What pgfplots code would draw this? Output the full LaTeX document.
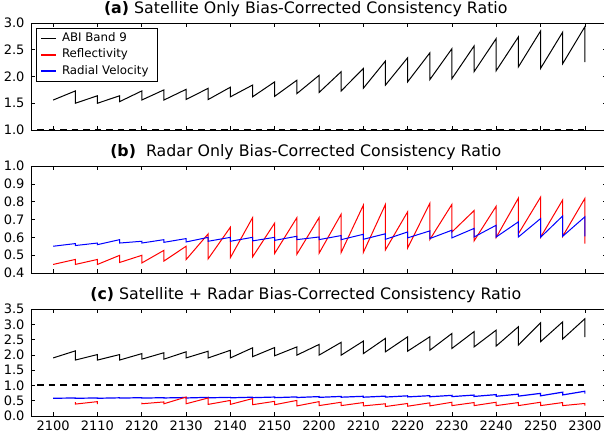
\documentclass[border=0pt]{standalone}
\usepackage{fontspec}
\setmainfont{DejaVu Sans}
\usepackage{pgfplots}
\pgfplotsset{compat=1.18}
\begin{document}
\begin{tikzpicture}
\pgfplotsset{
  panel/.style={
    scale only axis, width=576pt, height=107pt,
    xmin=-5, xmax=125,
    xtick={0,10,20,30,40,50,60,70,80,90,100,110,120},
    tick align=inside,
    major tick length=4pt,
    tick style={black, line width=0.6pt},
    axis line style={line width=0.8pt},
    xticklabels={},
    ticklabel style={font=\fontsize{13}{15}\selectfont},
    /pgf/number format/assume math mode=true,
    yticklabel style={xshift=-3pt, /pgf/number format/fixed, /pgf/number format/fixed zerofill, /pgf/number format/precision=1},
    xticklabel style={yshift=-1pt},
    title style={at={(axis description cs:0.477,1)}, anchor=base, yshift=4pt, font=\fontsize{15.8}{17}\selectfont},
    anchor=south west,
    unbounded coords=jump,
  },
  refdash/.style={draw=black, line width=2pt, dash pattern=on 6.5pt off 5pt, forget plot},
}
% ---------------- (a)
\begin{axis}[panel, at={(31pt,307pt)},
  ymin=1, ymax=3, ytick={1,1.5,2,2.5,3},
  title={\textbf{(a)} Satellite Only Bias-Corrected Consistency Ratio},
  legend style={at={(axis description cs:0,1)}, anchor=north west, xshift=5pt, yshift=-5pt,
    draw=black, font=\fontsize{11.8}{13}\selectfont,
    inner xsep=4pt, inner ysep=2.5pt, row sep=1pt,
    nodes={inner xsep=5pt, inner ysep=2.3pt, text height=8.3pt, text depth=2.5pt}, cells={anchor=west}},
]
\addplot[draw=black, line width=1pt,
  legend image code/.code={\draw[draw=black, line width=1.8pt] (0pt,0pt) -- (15pt,0pt);}] coordinates {
(0,1.56) (5,1.73) (5,1.50) (10,1.64) (10,1.50) (15,1.64) (15,1.53) (20,1.73) (20,1.56)
(25,1.75) (25,1.56) (30,1.76) (30,1.57) (35,1.78) (35,1.57) (40,1.80) (40,1.62)
(45,1.84) (45,1.62) (50,1.90) (50,1.63) (55,1.93) (55,1.68) (60,2.02) (60,1.70)
(65,2.09) (65,1.73) (70,2.15) (70,1.78) (75,2.29) (75,1.84) (80,2.35) (80,1.90)
(85,2.44) (85,1.94) (90,2.52) (90,1.96) (95,2.57) (95,2.09) (100,2.71) (100,2.11)
(105,2.74) (105,2.18) (110,2.85) (110,2.15) (115,2.83) (115,2.24) (120,2.93) (120,2.27)};
\addlegendentry{ABI Band 9}
\addlegendimage{legend image code/.code={\draw[draw=red, line width=1.8pt] (0pt,0pt) -- (15pt,0pt);}}
\addlegendentry{Reflectivity}
\addlegendimage{legend image code/.code={\draw[draw=blue, line width=1.8pt] (0pt,0pt) -- (15pt,0pt);}}
\addlegendentry{Radial Velocity}
\addplot[refdash] coordinates {(-3.6,1) (120,1)};
\end{axis}
% ---------------- (b)
\begin{axis}[panel, at={(31pt,164pt)},
  ymin=0.4, ymax=1.0, ytick={0.4,0.5,0.6,0.7,0.8,0.9,1.0},
  title={\textbf{(b)}\ \ Radar Only Bias-Corrected Consistency Ratio},
]
\addplot[draw=red, line width=1pt] coordinates {
(0,0.448) (5,0.476) (5,0.448) (10,0.476) (10,0.448) (15,0.499) (15,0.459) (20,0.499) (20,0.456)
(25,0.527) (25,0.467) (30,0.55) (30,0.475) (35,0.62) (35,0.48) (40,0.657) (40,0.486)
(45,0.71) (45,0.49) (50,0.68) (50,0.51) (55,0.71) (55,0.505) (60,0.71) (60,0.51)
(65,0.73) (65,0.515) (70,0.78) (70,0.515) (75,0.785) (75,0.53) (80,0.743) (80,0.54)
(85,0.79) (85,0.587) (90,0.785) (90,0.63) (95,0.75) (95,0.58) (100,0.775) (100,0.60)
(105,0.82) (105,0.62) (110,0.825) (110,0.60) (115,0.81) (115,0.606) (120,0.818) (120,0.565)};
\addplot[draw=blue, line width=1pt] coordinates {
(0,0.55) (5,0.565) (5,0.554) (10,0.568) (10,0.559) (15,0.587) (15,0.568) (20,0.578) (20,0.568)
(25,0.587) (25,0.572) (30,0.593) (30,0.574) (35,0.60) (35,0.578) (40,0.60) (40,0.578)
(45,0.60) (45,0.58) (50,0.60) (50,0.583) (55,0.606) (55,0.587) (60,0.602) (60,0.587)
(65,0.61) (65,0.587) (70,0.617) (70,0.589) (75,0.62) (75,0.589) (80,0.63) (80,0.597)
(85,0.636) (85,0.593) (90,0.64) (90,0.597) (95,0.65) (95,0.602) (100,0.668) (100,0.602)
(105,0.687) (105,0.602) (110,0.705) (110,0.60) (115,0.72) (115,0.606) (120,0.715) (120,0.606)};
\addplot[refdash] coordinates {(-3.6,1) (120,1)};
\end{axis}
% ---------------- (c)
\begin{axis}[panel, at={(31pt,21pt)},
  ymin=0, ymax=3.5, ytick={0,0.5,1,1.5,2,2.5,3,3.5},
  xticklabels={2100,2110,2120,2130,2140,2150,2200,2210,2220,2230,2240,2250,2300},
  title={\textbf{(c)} Satellite + Radar Bias-Corrected Consistency Ratio},
]
\addplot[draw=black, line width=1pt] coordinates {
(0,1.90) (5,2.13) (5,1.83) (10,2.01) (10,1.83) (15,2.01) (15,1.83) (20,2.04) (20,1.86)
(25,2.07) (25,1.86) (30,2.10) (30,1.90) (35,2.12) (35,1.90) (40,2.15) (40,1.90)
(45,2.23) (45,1.94) (50,2.24) (50,1.97) (55,2.26) (55,1.99) (60,2.34) (60,1.99)
(65,2.41) (65,1.99) (70,2.45) (70,2.04) (75,2.54) (75,2.10) (80,2.59) (80,2.12)
(85,2.59) (85,2.15) (90,2.70) (90,2.21) (95,2.76) (95,2.26) (100,2.81) (100,2.29)
(105,2.92) (105,2.32) (110,3.05) (110,2.43) (115,3.08) (115,2.52) (120,3.18) (120,2.58)};
\addplot[refdash] coordinates {(-3.6,1) (120,1)};
\addplot[draw=blue, line width=1.2pt] coordinates {
(0,0.58) (5,0.59) (5,0.58) (10,0.59) (10,0.58) (15,0.595) (15,0.585) (20,0.60) (20,0.585)
(25,0.60) (25,0.59) (30,0.605) (30,0.59) (35,0.61) (35,0.595) (40,0.61) (40,0.595)
(45,0.615) (45,0.60) (50,0.62) (50,0.60) (55,0.625) (55,0.605) (60,0.635) (60,0.61)
(65,0.64) (65,0.615) (70,0.645) (70,0.615) (75,0.65) (75,0.62) (80,0.66) (80,0.625)
(85,0.665) (85,0.63) (90,0.675) (90,0.635) (95,0.685) (95,0.64) (100,0.70) (100,0.645)
(105,0.715) (105,0.65) (110,0.74) (110,0.66) (115,0.78) (115,0.69) (120,0.81) (120,0.73)};
\addplot[draw=red, line width=1pt] coordinates {
(5,0.45) (5,0.39) (10,0.47) (10,0.39) (15,nan)
(20,0.44) (20,0.40) (25,0.46) (25,0.40) (30,0.62) (30,0.40) (35,0.59) (35,0.38)
(40,0.51) (40,0.38) (45,0.57) (45,0.37) (50,0.48) (50,0.37) (55,0.51) (55,0.33)
(60,0.47) (60,0.34) (65,0.45) (65,0.34) (70,0.44) (70,0.33) (75,0.40) (75,0.31)
(80,0.41) (80,0.32) (85,0.43) (85,0.33) (90,0.45) (90,0.34) (95,0.44) (95,0.34)
(100,0.45) (100,0.34) (105,0.44) (105,0.34) (110,0.45) (110,0.34) (115,0.44) (115,0.34)
(120,0.41) (120,0.34)};
\end{axis}
\pgfresetboundingbox
\path[use as bounding box] (0pt,0pt) rectangle (604pt,437pt);
\end{tikzpicture}
\end{document}
